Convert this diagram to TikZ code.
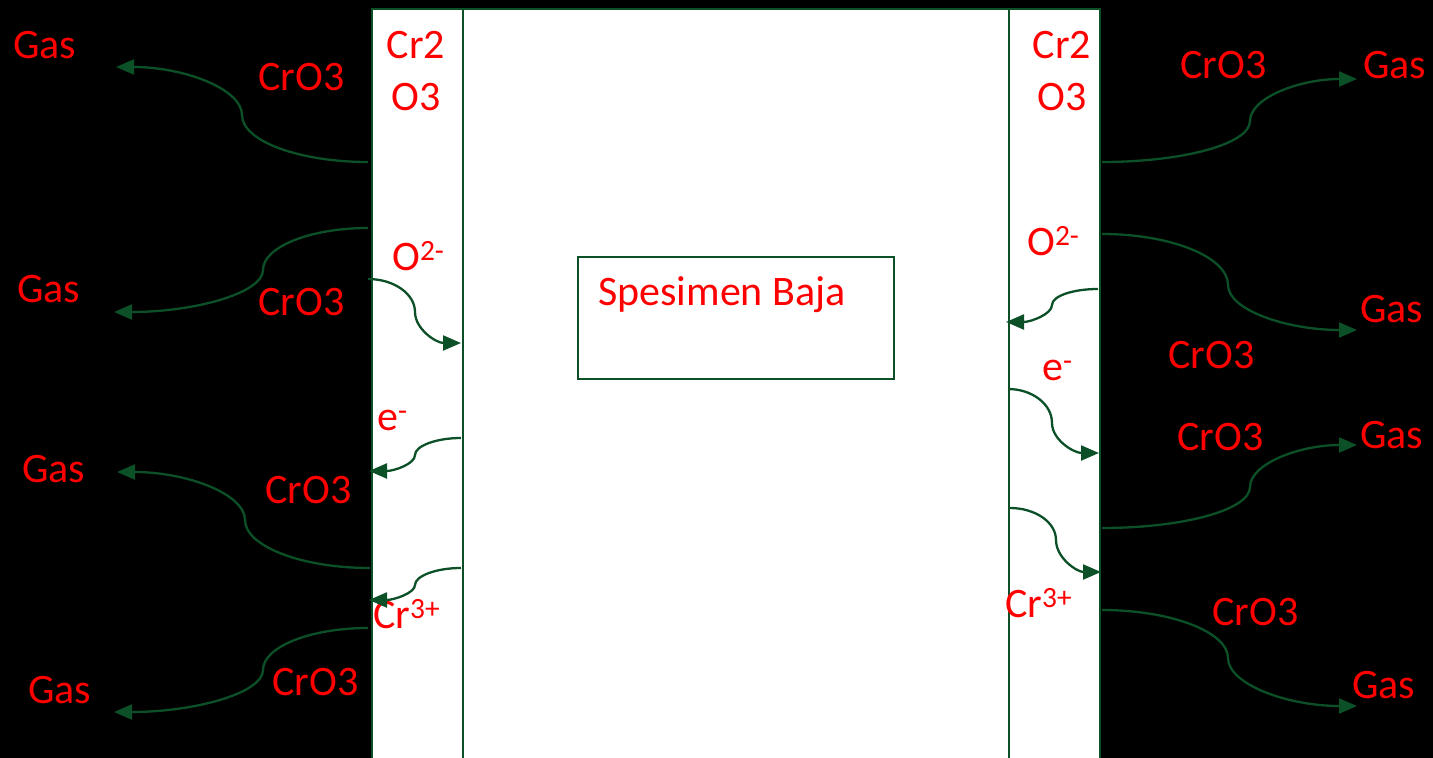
\documentclass[tikz,border=0pt]{standalone}
\usepackage{fontspec}
\setmainfont{Carlito}
\usetikzlibrary{arrows.meta}
\definecolor{film}{RGB}{12,80,40}
\definecolor{labelred}{RGB}{255,0,0}
\tikzset{
  lbl/.style={text=labelred, font=\fontsize{42}{51}\selectfont, inner sep=0pt, anchor=base west},
  clbl/.style={lbl, anchor=base},
  flow/.style={draw=film, line width=2.3pt, -{Triangle[length=18pt,width=15pt]}},
  layer/.style={draw=film, fill=white, line width=2pt, inner sep=0pt, anchor=north west},
}
\begin{document}
\begin{tikzpicture}[x=1pt,y=-1pt]
\useasboundingbox (0,0) rectangle (1433,758);
\fill[black] (0,0) rectangle (1433,758);
\clip (0,0) rectangle (1433,758);

% oxide scales and steel core
\node[layer, minimum width=91pt, minimum height=770pt] (oxL) at (371,8) {};
\node[layer, minimum width=546pt, minimum height=770pt] (core) at (462,8) {};
\node[layer, minimum width=91pt, minimum height=770pt] (oxR) at (1008,8) {};
\node[layer, line width=2.4pt, minimum width=316pt, minimum height=122pt] (spec) at (577,256) {};
\node[lbl] (specT) at (598,305) {Spesimen Baja};

% labels, left side
\node[clbl] (crL1) at (416,58) {Cr2};
\node[clbl] (crL2) at (416,110) {O3};
\node[lbl] (gL1) at (13,58) {Gas};
\node[lbl] (cL1) at (258,90) {CrO3};
\node[lbl] (oL) at (392,270) {O\textsuperscript{2-}};
\node[lbl] (gL2) at (17,302) {Gas};
\node[lbl] (cL2) at (258,315) {CrO3};
\node[lbl] (eL) at (377,430) {e\textsuperscript{-}};
\node[lbl] (gL3) at (22,482) {Gas};
\node[lbl] (cL3) at (265,503) {CrO3};
\node[lbl] (crionL) at (373,628) {Cr\textsuperscript{3+}};
\node[lbl] (cL4) at (272,695) {CrO3};
\node[lbl] (gL4) at (28,703) {Gas};

% labels, right side
\node[clbl] (crR1) at (1062,58) {Cr2};
\node[clbl] (crR2) at (1062,110) {O3};
\node[lbl] (cR1) at (1180,78) {CrO3};
\node[lbl] (gR1) at (1363,78) {Gas};
\node[lbl] (oR) at (1027,255) {O\textsuperscript{2-}};
\node[lbl] (gR2) at (1360,322) {Gas};
\node[lbl] (cR2) at (1168,368) {CrO3};
\node[lbl] (eR) at (1042,380) {e\textsuperscript{-}};
\node[lbl] (cR3) at (1177,450) {CrO3};
\node[lbl] (gR3) at (1360,448) {Gas};
\node[lbl] (crionR) at (1005,617) {Cr\textsuperscript{3+}};
\node[lbl] (cR4) at (1212,625) {CrO3};
\node[lbl] (gR4) at (1352,698) {Gas};

% connector end points
\coordinate (a1s) at (368,162);  \coordinate (a1m) at (242,115);  \coordinate (a1e) at (116,67);
\coordinate (a2s) at (368,228);  \coordinate (a2m) at (263,270);  \coordinate (a2e) at (114,312);
\coordinate (a3s) at (368,279);  \coordinate (a3m) at (415,312);  \coordinate (a3e) at (461,343);
\coordinate (a4s) at (461,438);  \coordinate (a4m) at (415,455);  \coordinate (a4e) at (369,471);
\coordinate (a5s) at (370,568);  \coordinate (a5m) at (245,520);  \coordinate (a5e) at (117,472);
\coordinate (a6s) at (461,568);  \coordinate (a6m) at (415,585);  \coordinate (a6e) at (369,600);
\coordinate (a7s) at (368,628);  \coordinate (a7m) at (263,670);  \coordinate (a7e) at (114,712);
\coordinate (b1s) at (1102,162); \coordinate (b1m) at (1250,121); \coordinate (b1e) at (1357,79);
\coordinate (b2s) at (1102,234); \coordinate (b2m) at (1228,285); \coordinate (b2e) at (1357,330);
\coordinate (b3s) at (1098,289); \coordinate (b3m) at (1052,305); \coordinate (b3e) at (1006,322);
\coordinate (b4s) at (1008,389); \coordinate (b4m) at (1052,423); \coordinate (b4e) at (1099,453);
\coordinate (b5s) at (1102,528); \coordinate (b5m) at (1250,487); \coordinate (b5e) at (1357,445);
\coordinate (b6s) at (1010,508); \coordinate (b6m) at (1056,540); \coordinate (b6e) at (1101,572);
\coordinate (b7s) at (1102,610); \coordinate (b7m) at (1228,658); \coordinate (b7e) at (1357,706);

% S-shaped flow arrows, left side
\draw[flow] (a1s) .. controls +(-69,0) and +(0,26) .. (a1m) .. controls +(0,-26) and +(68,0) .. (a1e);
\draw[flow] (a2s) .. controls +(-58,0) and +(0,-23) .. (a2m) .. controls +(0,23) and +(81,0) .. (a2e);
\draw[flow] (a3s) .. controls +(26,0) and +(0,-18) .. (a3m) .. controls +(0,17) and +(-25,0) .. (a3e);
\draw[flow] (a4s) .. controls +(-25,0) and +(0,-9) .. (a4m) .. controls +(0,9) and +(25,0) .. (a4e);
\draw[flow] (a5s) .. controls +(-69,0) and +(0,26) .. (a5m) .. controls +(0,-26) and +(70,0) .. (a5e);
\draw[flow] (a6s) .. controls +(-25,0) and +(0,-9) .. (a6m) .. controls +(0,8) and +(25,0) .. (a6e);
\draw[flow] (a7s) .. controls +(-58,0) and +(0,-23) .. (a7m) .. controls +(0,23) and +(81,0) .. (a7e);

% S-shaped flow arrows, right side
\draw[flow] (b1s) .. controls +(81,0) and +(0,23) .. (b1m) .. controls +(0,-23) and +(-58,0) .. (b1e);
\draw[flow] (b2s) .. controls +(69,0) and +(0,-28) .. (b2m) .. controls +(0,25) and +(-70,0) .. (b2e);
\draw[flow] (b3s) .. controls +(-25,0) and +(0,-9) .. (b3m) .. controls +(0,9) and +(25,0) .. (b3e);
\draw[flow] (b4s) .. controls +(24,0) and +(0,-19) .. (b4m) .. controls +(0,17) and +(-25,0) .. (b4e);
\draw[flow] (b5s) .. controls +(81,0) and +(0,23) .. (b5m) .. controls +(0,-23) and +(-58,0) .. (b5e);
\draw[flow] (b6s) .. controls +(25,0) and +(0,-18) .. (b6m) .. controls +(0,18) and +(-24,0) .. (b6e);
\draw[flow] (b7s) .. controls +(69,0) and +(0,-26) .. (b7m) .. controls +(0,26) and +(-70,0) .. (b7e);
\end{tikzpicture}
\end{document}
